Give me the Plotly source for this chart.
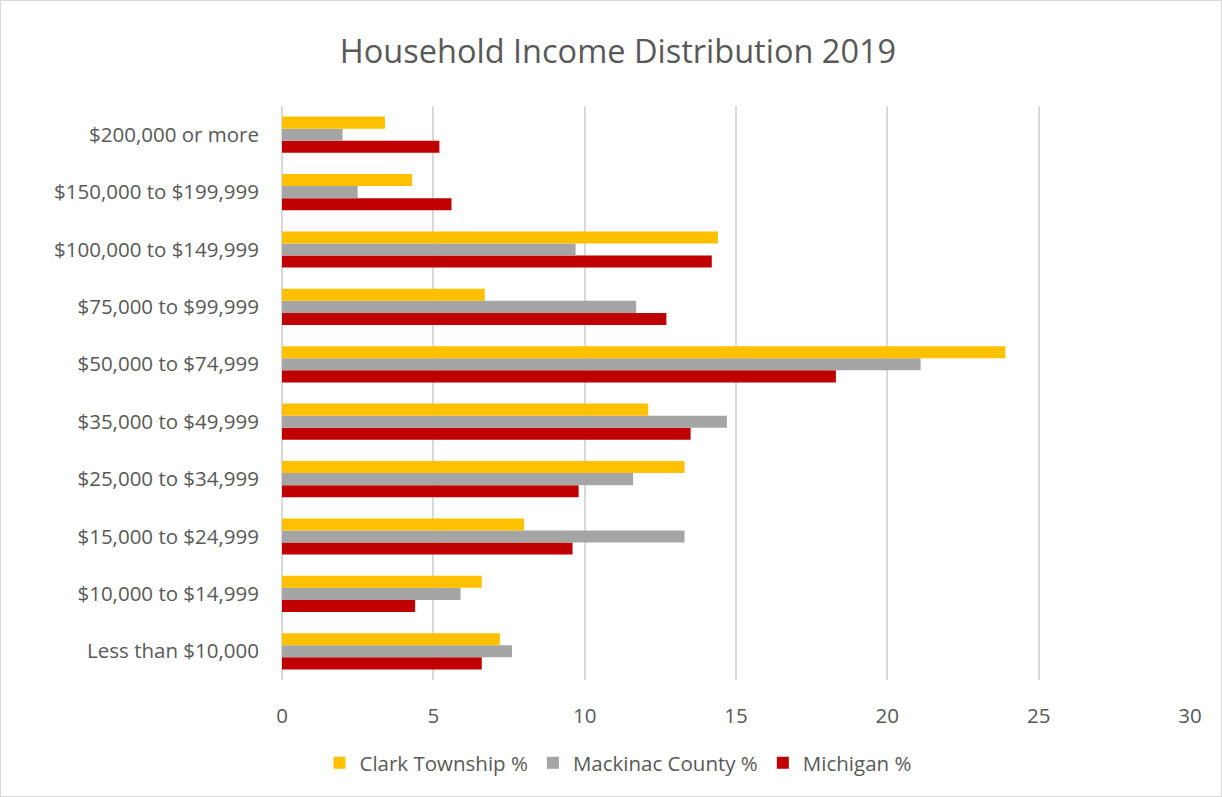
import plotly.graph_objects as go

categories = ["Less than $10,000", "$10,000 to $14,999", "$15,000 to $24,999",
              "$25,000 to $34,999", "$35,000 to $49,999", "$50,000 to $74,999",
              "$75,000 to $99,999", "$100,000 to $149,999", "$150,000 to $199,999",
              "$200,000 or more"]
clark = [7.2, 6.6, 8.0, 13.3, 12.1, 23.9, 6.7, 14.4, 4.3, 3.4]
mackinac = [7.6, 5.9, 13.3, 11.6, 14.7, 21.1, 11.7, 9.7, 2.5, 2.0]
michigan = [6.6, 4.4, 9.6, 9.8, 13.5, 18.3, 12.7, 14.2, 5.6, 5.2]
x_ticks = [0, 5, 10, 15, 20, 25, 30]

FONT = "Open Sans"
TXT = "#595959"

fig = go.Figure()
fig.add_trace(go.Bar(y=categories, x=michigan, name="Michigan %", orientation="h",
                     marker=dict(color="#C00000", line=dict(width=0)), legendrank=3))
fig.add_trace(go.Bar(y=categories, x=mackinac, name="Mackinac County %", orientation="h",
                     marker=dict(color="#A5A5A5", line=dict(width=0)), legendrank=2))
fig.add_trace(go.Bar(y=categories, x=clark, name="Clark Township %", orientation="h",
                     marker=dict(color="#FFC000", line=dict(width=0)), legendrank=1))

W, H = 1222, 797
L, R, T, B = 282, 32, 106, 117
pw, ph = W - L - R, H - T - B

fig.update_layout(
    width=W, height=H,
    margin=dict(l=L, r=R, t=T, b=B),
    paper_bgcolor="white", plot_bgcolor="white",
    barmode="group", bargap=0.37, bargroupgap=0,
    font=dict(family=FONT, color=TXT, size=20.5),
    title=dict(text="Household Income Distribution 2019", x=0.5 + 7 / W, xref="container",
               y=1 - 52 / H, yanchor="middle", xanchor="center",
               font=dict(family=FONT, size=32.5, color=TXT)),
    xaxis=dict(range=[0, 30], tickvals=x_ticks, showgrid=True, gridcolor="#D9D9D9",
               gridwidth=1.5, zeroline=True, zerolinecolor="#D9D9D9", zerolinewidth=1.5,
               showline=False, ticks="",
               ticklabelstandoff=21, tickfont=dict(size=20.5, color=TXT)),
    yaxis=dict(showgrid=False, zeroline=False, showline=False, ticks="",
               ticklabelstandoff=22, tickfont=dict(size=20.5, color=TXT),
               categoryorder="array", categoryarray=categories),
    legend=dict(orientation="h", x=(618 - L) / pw, xanchor="center",
                y=-(763 - (H - B)) / ph, yanchor="middle",
                font=dict(size=20.5, color=TXT), traceorder="normal",
                itemwidth=30),
    showlegend=True,
)

fig.add_shape(type="rect", xref="paper", yref="paper",
              x0=-(L - 0.5) / pw, x1=(W - 0.5 - L) / pw,
              y0=-(B - 0.5) / ph, y1=(H - B - 0.5) / ph,
              line=dict(color="#D9D9D9", width=1), layer="below")

fig.write_html("out.html")
